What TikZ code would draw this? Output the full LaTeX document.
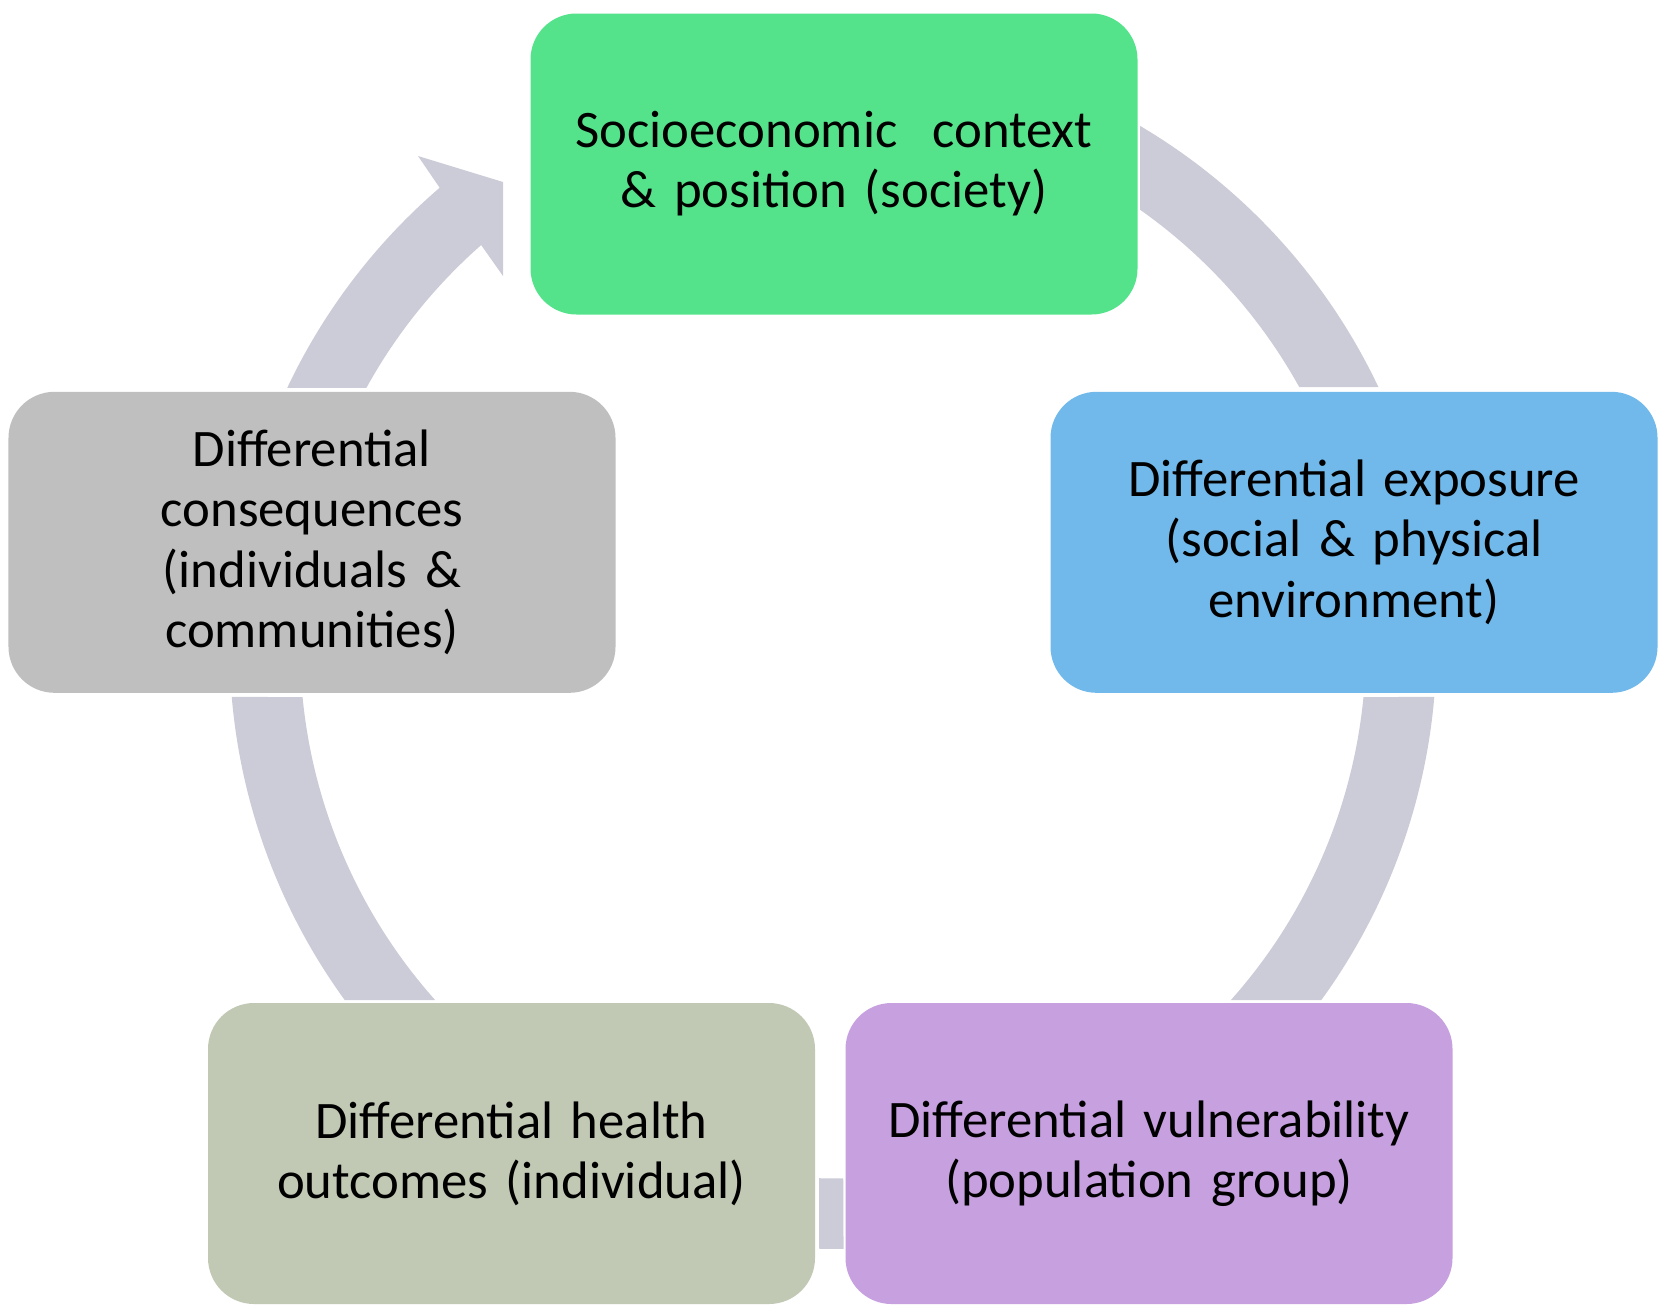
\documentclass[tikz,border=0pt]{standalone}
\usepackage{fontspec}
\setmainfont{Carlito}
\usepackage{tikz}
\usetikzlibrary{positioning}

\definecolor{socgreen}{HTML}{54E38B}
\definecolor{expblue}{HTML}{71B9EA}
\definecolor{vulpurple}{HTML}{C7A0E0}
\definecolor{hlthgreen}{HTML}{C1C9B5}
\definecolor{consgray}{HTML}{BFBFBF}
\definecolor{bandgray}{HTML}{CCCCD8}

\newcommand{\outR}{6.035}
\newcommand{\inR}{5.33}

\begin{document}
\begin{tikzpicture}[
	box/.style={rectangle,rounded corners=0.46cm,minimum width=6.07cm,minimum height=3.01cm,
		inner sep=0pt,text width=5.8cm,align=center,
		font=\fontsize{15pt}{17.1pt}\selectfont},
	band/.style={fill=bandgray}]
	\useasboundingbox (0,0) rectangle (16.64,13.12);
	\coordinate (c) at (8.33,6.666);
	% arcs of the cycle
	\begin{scope}[shift={(c)}]
		\fill[band] (59.42:\outR) arc[start angle=59.42,end angle=25.35,radius=\outR]
			-- (29.0:\inR) arc[start angle=29.0,end angle=54.83,radius=\inR] -- cycle;
		\fill[band] (-4.90:\outR) arc[start angle=-4.90,end angle=-35.99,radius=\outR]
			-- (-41.71:\inR) arc[start angle=-41.71,end angle=-5.56,radius=\inR] -- cycle;
		\fill[band] (271.0:\outR) arc[start angle=271.0,end angle=268.67,radius=\outR]
			-- (268.5:\inR) arc[start angle=268.5,end angle=271.1,radius=\inR] -- cycle;
		\fill[band] (215.99:\outR) arc[start angle=215.99,end angle=184.90,radius=\outR]
			-- (185.56:\inR) arc[start angle=185.56,end angle=221.71,radius=\inR] -- cycle;
		\fill[band] (154.75:\outR) arc[start angle=154.75,end angle=130.68,radius=\outR]
			-- (-4.15,4.894) -- (-3.30,4.634) -- (-3.30,3.694)
			-- (131.31:\inR) arc[start angle=131.31,end angle=151.12,radius=\inR] -- cycle;
	\end{scope}
	% boxes
	\node[box,fill=socgreen] (soc) at (8.34,11.48) {Socioeconomic\ \ context\\ \& position (society)};
	\node[box,fill=expblue] (exp) at (13.54,7.697) {Differential exposure\\(social \& physical\\environment)};
	\node[box,fill=vulpurple] (vul) at (11.49,1.585) {Differential vulnerability\\(population group)};
	\node[box,fill=hlthgreen] (hlth) at (5.115,1.585) {Differential health\\outcomes (individual)};
	\node[box,fill=consgray] (cons) at (3.12,7.697) {Differential\\consequences\\(individuals \&\\communities)};
\end{tikzpicture}
\end{document}
